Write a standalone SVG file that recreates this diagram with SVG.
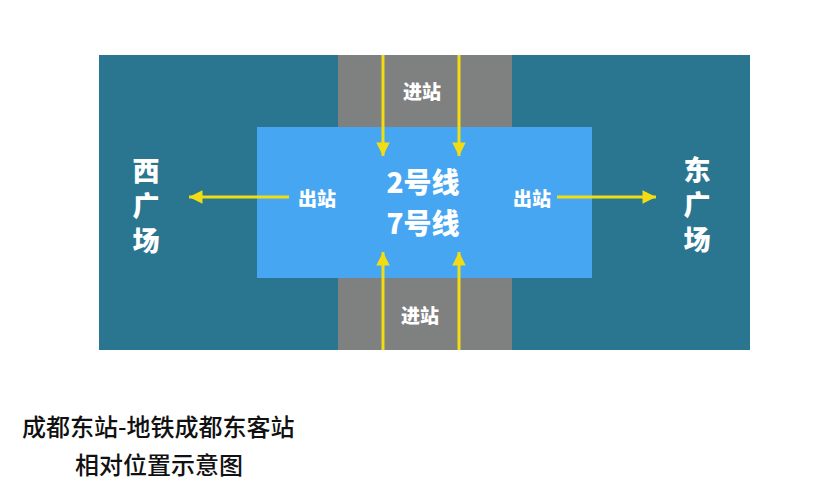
<svg xmlns="http://www.w3.org/2000/svg" width="830" height="500" viewBox="0 0 830 500">
<style>
.w{fill:#fff;font-family:"Noto Sans CJK SC","Noto Sans",sans-serif;font-weight:900;text-anchor:middle;dominant-baseline:central}
.s{font-size:19px}
.m{font-size:28px}
.v{fill:#fff;font-family:"Noto Sans CJK SC","Noto Sans",sans-serif;font-weight:900;font-size:27px;writing-mode:vertical-rl;letter-spacing:8px;text-anchor:start;dominant-baseline:central}
.cap{fill:#111;font-family:"Noto Sans CJK SC","Noto Sans",sans-serif;font-size:24px;font-weight:500;dominant-baseline:central}
.ar{stroke:#f2dc12;stroke-width:3;fill:none;marker-end:url(#ah)}
</style>
<defs>
<marker id="ah" viewBox="0 0 10 10" refX="10" refY="5" markerWidth="5" markerHeight="4.5" markerUnits="strokeWidth" orient="auto">
<path d="M0,0 L10,5 L0,10 Z" fill="#f2dc12"/>
</marker>
</defs>
<rect width="830" height="500" fill="#fff"/>
<g id="outer"><rect x="99" y="55" width="651" height="295" fill="#2a7590"/></g>
<g id="road"><rect x="338" y="55" width="174" height="295" fill="#7f8080"/></g>
<g id="station"><rect x="257" y="127" width="335" height="151" fill="#47a6f2"/>
<text class="w m" x="423" y="181">2号线</text>
<text class="w m" x="423" y="222">7号线</text></g>
<g id="west"><text class="v" x="146" y="157">西广场</text></g>
<g id="east"><text class="v" x="697" y="156">东广场</text></g>
<g id="labels">
<text class="w s" x="422" y="90">进站</text>
<text class="w s" x="420" y="314">进站</text>
<text class="w s" x="317" y="197">出站</text>
<text class="w s" x="532" y="197">出站</text>
</g>
<g id="connectors">
<line class="ar" x1="383" y1="55" x2="383" y2="156"/>
<line class="ar" x1="459" y1="55" x2="459" y2="156"/>
<line class="ar" x1="383" y1="350" x2="383" y2="252"/>
<line class="ar" x1="459" y1="350" x2="459" y2="252"/>
<line class="ar" x1="289" y1="197" x2="189" y2="197"/>
<line class="ar" x1="557" y1="197" x2="656" y2="197"/>
</g>
<g id="caption">
<text class="cap" x="22" y="425">成都东站-地铁成都东客站</text>
<text class="cap" x="75" y="463">相对位置示意图</text>
</g>
</svg>
